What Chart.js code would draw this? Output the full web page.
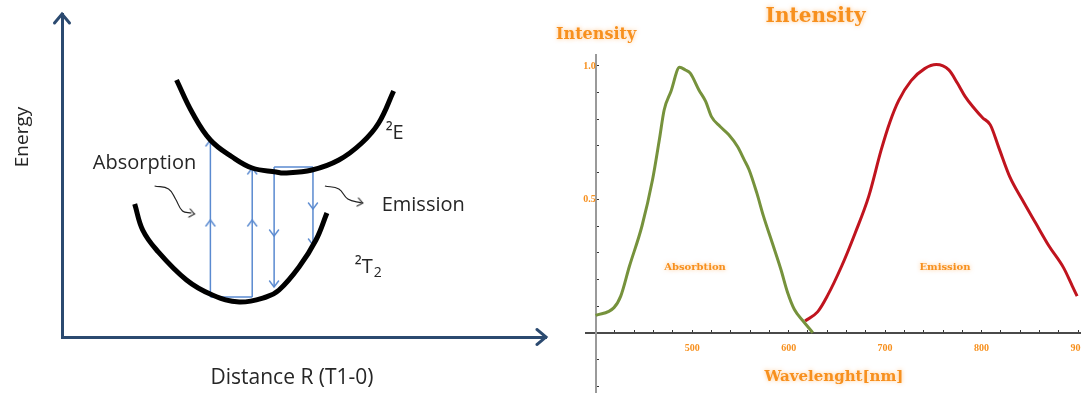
<!DOCTYPE html>
<html>
<head>
<meta charset="utf-8">
<script src="https://cdn.jsdelivr.net/npm/chart.js@4.4.0/dist/chart.umd.min.js"></script>
<style>
  html, body { margin: 0; padding: 0; background: #fff; }
  #wrap { position: relative; width: 1081px; height: 393px; overflow: hidden; }
  #diagramChart { position: absolute; left: 0; top: 0; }
  #spectrumChart { position: absolute; left: 552px; top: 0; }
</style>
</head>
<body>
<div id="wrap">
  <canvas id="diagramChart" width="552" height="393"></canvas>
  <canvas id="spectrumChart" width="529" height="393"></canvas>
</div>
<script>
// spectrum panel (right)
var absWavelength = [400, 419, 426, 435, 448, 459, 466, 471, 478, 487, 493, 498, 507, 514, 520, 529, 538, 547, 554, 559, 567, 574, 583, 592, 599, 606, 615, 625];
var absIntensity = [0.065, 0.094, 0.137, 0.249, 0.40, 0.574, 0.723, 0.835, 0.904, 0.995, 0.985, 0.973, 0.91, 0.867, 0.81, 0.773, 0.742, 0.698, 0.648, 0.611, 0.524, 0.436, 0.337, 0.237, 0.150, 0.087, 0.044, 0.0];
var emWavelength = [617, 630, 640, 655, 669, 683, 696, 705, 714, 727, 741, 753, 766, 775, 783, 791, 801, 809, 818, 829, 842, 856, 870, 885, 894, 899];
var emIntensity = [0.044, 0.078, 0.137, 0.25, 0.374, 0.511, 0.686, 0.79, 0.87, 0.945, 0.99, 1.005, 0.985, 0.935, 0.885, 0.847, 0.806, 0.779, 0.692, 0.586, 0.499, 0.411, 0.324, 0.243, 0.175, 0.137];
var xTickValues = [420, 440, 460, 480, 500, 520, 540, 560, 580, 600, 620, 640, 660, 680, 700, 720, 740, 760, 780, 800, 820, 840, 860, 880, 900];
var xTickLabels = [500, 600, 700, 800, 900];
var yTickValues = [-0.2, -0.1, 0.1, 0.2, 0.3, 0.4, 0.5, 0.6, 0.7, 0.8, 0.9, 1.0];
var yTickLabels = [0.5, 1.0];

// energy diagram panel (left), in diagram units
var upperCurve = [[115, 257], [131, 224], [149, 197], [171, 180], [191, 169], [215, 165], [223, 164], [251, 167], [278, 177], [301, 194], [318, 214], [333, 246]];
var lowerCurve = [[73, 133], [81, 107], [95, 87], [125, 57], [151, 42], [178, 35], [205, 40], [218, 47], [238, 70], [255, 97], [266, 124]];
var absorbLines = [[[149, 40], [149, 197]], [[191, 40], [191, 169]], [[149, 40], [191, 40]]];
var emitLines = [[[213, 170], [213, 50]], [[252, 170], [252, 92]], [[213, 170], [252, 170]]];
var upArrows = [[149, 197], [149, 117], [191, 169], [191, 117]];
var downArrows = [[213, 101], [213, 50], [252, 128], [252, 92]];
var absSquiggle = [[93, 151], [107, 148], [114, 138], [121, 126], [130, 124]];
var emSquiggle = [[264, 151], [278, 148], [287, 138], [301, 134]];
var squiggleTips = [[133, 123], [302, 134]];
var axisTips = [[0, 323], [486, 0]];

function pts(list) {
    return list.map(function(p) { return {x: p[0], y: p[1]}; });
}

function makeChevron(color, w, h, lw) {
    var size = Math.ceil(Math.max(w, h) * 2 + 6);
    var c = document.createElement('canvas');
    c.width = size;
    c.height = size;
    var g = c.getContext('2d');
    g.strokeStyle = color;
    g.lineWidth = lw;
    g.lineCap = 'round';
    g.beginPath();
    g.moveTo(size / 2 - w / 2, size / 2 + h);
    g.lineTo(size / 2, size / 2);
    g.lineTo(size / 2 + w / 2, size / 2 + h);
    g.stroke();
    return c;
}

function textPlugin(items) {
    return {
        id: 'textLabels',
        afterDatasetsDraw: function(chart) {
            var ctx = chart.ctx;
            items.forEach(function(it) {
                var px = chart.scales.x.getPixelForValue(it.x);
                var py = chart.scales.y.getPixelForValue(it.y);
                ctx.save();
                ctx.font = it.font;
                ctx.fillStyle = it.color;
                ctx.textAlign = it.align || 'center';
                ctx.textBaseline = 'middle';
                if (it.glow) {
                    ctx.shadowColor = it.glow;
                    ctx.shadowBlur = 4;
                }
                ctx.translate(px, py);
                if (it.rotate) ctx.rotate(it.rotate * Math.PI / 180);
                ctx.fillText(it.text, 0, 0);
                if (it.sub) {
                    var w = ctx.measureText(it.text).width;
                    ctx.font = it.subFont;
                    ctx.textAlign = 'left';
                    ctx.fillText(it.sub, w + 1, 6);
                }
                ctx.restore();
            });
        }
    };
}

// axes sit inside the plot, so they must not push the plot area in
function noPadding(scale) {
    scale.paddingLeft = 0;
    scale.paddingRight = 0;
    scale.paddingTop = 0;
    scale.paddingBottom = 0;
}

var navy = '#2b4a70';
var blue = '#5a8ad0';
var ink = '#262626';
var lineFont = '"Open Sans", "Liberation Sans", sans-serif';

var blueUp = makeChevron(blue, 9, 6, 1.4);
var blackUp = makeChevron('#222', 8, 5, 1.2);
var navyUp = makeChevron(navy, 15, 9, 3);

var diagramSets = [
    {data: pts(upperCurve), showLine: true, borderColor: '#000', borderWidth: 5, tension: 0.4, pointRadius: 0},
    {data: pts(lowerCurve), showLine: true, borderColor: '#000', borderWidth: 5, tension: 0.4, pointRadius: 0}
];
absorbLines.concat(emitLines).forEach(function(seg) {
    diagramSets.push({data: pts(seg), showLine: true, borderColor: blue, borderWidth: 1.5, pointRadius: 0});
});
diagramSets.push({data: pts(absSquiggle), showLine: true, borderColor: '#222', borderWidth: 1.2, tension: 0.4, pointRadius: 0});
diagramSets.push({data: pts(emSquiggle), showLine: true, borderColor: '#222', borderWidth: 1.2, tension: 0.4, pointRadius: 0});
diagramSets.push({data: pts(upArrows), pointStyle: blueUp, pointRadius: 5, pointRotation: 0, clip: false});
diagramSets.push({data: pts(downArrows), pointStyle: blueUp, pointRadius: 5, pointRotation: 180, clip: false});
diagramSets.push({data: pts(squiggleTips), pointStyle: blackUp, pointRadius: 5, pointRotation: 100, clip: false});
diagramSets.push({data: pts(axisTips), pointStyle: navyUp, pointRadius: 5, pointRotation: [0, 90], clip: false});

var diagramChart = new Chart(document.getElementById('diagramChart'), {
    type: 'scatter',
    data: {datasets: diagramSets},
    options: {
        responsive: false,
        animation: false,
        events: [],
        layout: {padding: {left: 62, right: 4, top: 14, bottom: 56}},
        plugins: {legend: {display: false}, tooltip: {enabled: false}},
        scales: {
            x: {
                type: 'linear', min: 0, max: 486,
                ticks: {display: false},
                grid: {display: false, drawTicks: false},
                border: {display: true, color: navy, width: 3}
            },
            y: {
                type: 'linear', min: 0, max: 323,
                ticks: {display: false},
                grid: {display: false, drawTicks: false},
                border: {display: true, color: navy, width: 3}
            }
        }
    },
    plugins: [textPlugin([
        {text: 'Energy', x: -40, y: 200, rotate: -90, font: '19px ' + lineFont, color: ink},
        {text: 'Distance R (T1-0)', x: 231, y: -41, font: '21px ' + lineFont, color: ink},
        {text: 'Absorption', x: 31, y: 174, align: 'left', font: '20px ' + lineFont, color: ink},
        {text: 'Emission', x: 321, y: 132, align: 'left', font: '20px ' + lineFont, color: ink},
        {text: '\u00b2E', x: 325, y: 204, align: 'left', font: '20px ' + lineFont, color: ink},
        {text: '\u00b2T', x: 294, y: 70, align: 'left', font: '20px ' + lineFont, color: ink, sub: '2', subFont: '14px ' + lineFont}
    ])]
});

var orange = '#f7901e';
var glow = 'rgba(255, 150, 40, 0.55)';
var serifBold = '"DejaVu Serif", "Liberation Serif", serif';

var spectrumChart = new Chart(document.getElementById('spectrumChart'), {
    type: 'line',
    data: {
        datasets: [{
            label: 'Absorbtion',
            data: absWavelength.map(function(w, i) { return {x: w, y: absIntensity[i]}; }),
            borderColor: '#76923c',
            borderWidth: 3,
            cubicInterpolationMode: 'monotone',
            pointRadius: 0
        }, {
            label: 'Emission',
            data: emWavelength.map(function(w, i) { return {x: w, y: emIntensity[i]}; }),
            borderColor: '#c0141e',
            borderWidth: 3,
            cubicInterpolationMode: 'monotone',
            pointRadius: 0
        }]
    },
    options: {
        responsive: false,
        animation: false,
        events: [],
        layout: {padding: {left: 34, right: 0, top: 55, bottom: 0}},
        plugins: {legend: {display: false}, tooltip: {enabled: false}},
        scales: {
            x: {
                type: 'linear', min: 390, max: 903,
                position: {y: 0},
                afterBuildTicks: function(scale) {
                    scale.ticks = xTickValues.map(function(v) { return {value: v}; });
                },
                afterFit: noPadding,
                ticks: {
                    autoSkip: false, maxRotation: 0, padding: 14,
                    color: orange,
                    font: {family: 'Liberation Serif', size: 10, weight: 'bold'},
                    callback: function(v) { return xTickLabels.indexOf(v) >= 0 ? String(v) : ''; }
                },
                grid: {display: true, drawOnChartArea: false, drawTicks: true, tickLength: -4, tickColor: '#333', tickWidth: 1},
                border: {display: true, color: '#4a4a4a', width: 2}
            },
            y: {
                type: 'linear', min: -0.226, max: 1.041,
                position: {x: 400},
                afterBuildTicks: function(scale) {
                    scale.ticks = yTickValues.map(function(v) { return {value: v}; });
                },
                afterFit: noPadding,
                ticks: {
                    autoSkip: false, padding: 4,
                    color: orange,
                    font: {family: 'Liberation Serif', size: 10, weight: 'bold'},
                    callback: function(v) { return yTickLabels.indexOf(v) >= 0 ? v.toFixed(1) : ''; }
                },
                grid: {display: true, drawOnChartArea: false, drawTicks: true, tickLength: -4, tickColor: '#333', tickWidth: 1},
                border: {display: true, color: '#9a9a9a', width: 2}
            }
        }
    },
    plugins: [textPlugin([
        {text: 'Intensity', x: 628, y: 1.184, font: 'bold 20px ' + serifBold, color: orange, glow: glow},
        {text: 'Intensity', x: 400.5, y: 1.116, font: 'bold 16px ' + serifBold, color: orange, glow: glow},
        {text: 'Wavelenght[nm]', x: 647, y: -0.166, font: 'bold 15px ' + serifBold, color: orange, glow: glow},
        {text: 'Absorbtion', x: 503, y: 0.243, font: 'bold 10px ' + serifBold, color: orange, glow: glow},
        {text: 'Emission', x: 762, y: 0.243, font: 'bold 10px ' + serifBold, color: orange, glow: glow}
    ])]
});
</script>
</body>
</html>
